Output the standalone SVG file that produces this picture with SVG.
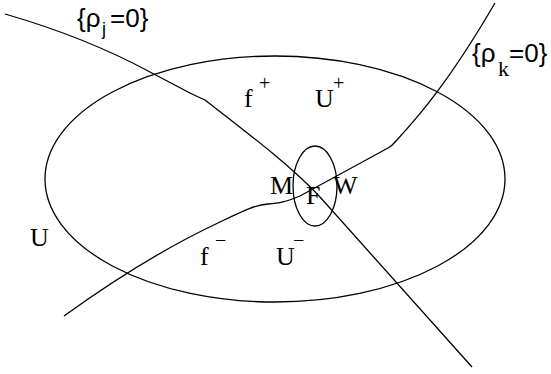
<svg xmlns="http://www.w3.org/2000/svg" width="551" height="374" viewBox="0 0 551 374">
<style>
.ln{fill:none;stroke:#000;stroke-width:1.3}
.sf{font-family:"Liberation Serif","Times New Roman",serif;font-size:26px;fill:#000}
.sup{font-family:"Liberation Serif","Times New Roman",serif;font-size:20px;fill:#000}
.ss{font-family:"Liberation Sans",Arial,sans-serif;font-size:26px;fill:#000}
.sub{font-family:"Liberation Sans",Arial,sans-serif;font-size:18px;fill:#000}
.subs{font-family:"Liberation Serif","Times New Roman",serif;font-size:22px;fill:#000}
</style>
<rect width="551" height="374" fill="#fff"/>
<g id="region-U">
<ellipse class="ln" cx="275" cy="179" rx="230" ry="123"/>
</g>
<g id="region-F">
<ellipse class="ln" cx="315" cy="186" rx="22" ry="40"/>
</g>
<g id="connectors">
<path id="rho-j" class="ln" d="M5,14 C50,27 100,45 150,72 L190,93 Q198,97 205,100 C250,135 290,165 320,197 L472,367"/>
<path id="rho-k" class="ln" d="M64,316 C100,290 160,250 220,222 C245,210 255,205 268,204 C280,203 285,202 300,196 L388,148 Q392,146 396,141 C420,115 450,80 495,3"/>
</g>
<g id="label-rho-j">
<text class="ss" x="77" y="27">{ρ</text>
<text class="sub" x="102" y="35">j</text>
<text class="ss" x="110" y="27">=0}</text>
</g>
<g id="label-rho-k">
<text class="ss" x="472" y="62">{ρ</text>
<text class="subs" x="498" y="76">k</text>
<text class="ss" x="509" y="62">=0}</text>
</g>
<g id="label-fplus">
<text class="sf" x="244" y="107">f</text>
<text class="sup" x="259" y="90">+</text>
</g>
<g id="label-Uplus">
<text class="sf" x="315" y="107">U</text>
<text class="sup" x="333" y="90">+</text>
</g>
<g id="label-M"><text class="sf" x="270" y="194">M</text></g>
<g id="label-F"><text class="sf" x="306" y="204">F</text></g>
<g id="label-W"><text class="sf" x="333" y="194">W</text></g>
<g id="label-U"><text class="sf" x="30" y="246">U</text></g>
<g id="label-fminus">
<text class="sf" x="200" y="265">f</text>
<text class="sup" x="215" y="247">−</text>
</g>
<g id="label-Uminus">
<text class="sf" x="276" y="265">U</text>
<text class="sup" x="293" y="247">−</text>
</g>
</svg>
